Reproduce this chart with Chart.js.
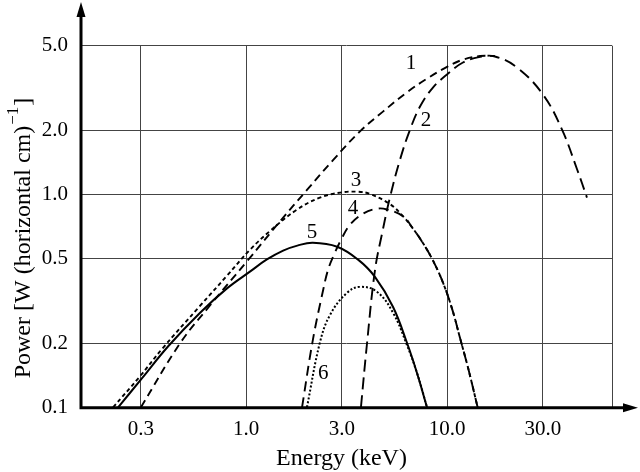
<!DOCTYPE html>
<html>
<head>
<meta charset="utf-8">
<style>
  html, body { margin: 0; padding: 0; background: #fff; }
  canvas { display: block; }
</style>
</head>
<body>
<canvas id="chart" width="640" height="472"></canvas>
<script src="https://cdn.jsdelivr.net/npm/chart.js@4/dist/chart.umd.min.js"></script>
<script>
const serif = '"Liberation Serif", "Times New Roman", serif';

// axes
const xTickValues = [0.3, 1, 3, 10, 30];
const xTickLabels = ["0.3", "1.0", "3.0", "10.0", "30.0"];
const yTickValues = [0.1, 0.2, 0.5, 1, 2, 5];
const yTickLabels = ["0.1", "0.2", "0.5", "1.0", "2.0", "5.0"];
const xMin = 0.151;
const xMax = 66.2;
const yMin = 0.1;
const yMax = 5;

// curves (energy in keV, power in W per horizontal cm)
const curve1Energy = [0.30, 0.47, 0.66, 1.02, 1.48, 2.01, 2.71, 3.69, 4.80, 6.32, 7.95, 10.0, 12.0, 14.6, 17.3];
const curve1Power = [0.10, 0.20, 0.30, 0.49, 0.75, 1.05, 1.45, 1.98, 2.45, 3.02, 3.50, 3.98, 4.30, 4.47, 4.47];

const curve2Energy = [3.73, 4.00, 4.38, 4.75, 5.21, 5.84, 6.55, 7.34, 8.51, 10.0, 12.0, 14.6, 17.3, 22.3, 30.0, 37.3, 44.4, 49.7];
const curve2Power = [0.10, 0.20, 0.44, 0.654, 0.976, 1.46, 2.02, 2.59, 3.18, 3.66, 4.17, 4.43, 4.45, 3.95, 2.95, 2.02, 1.31, 0.966];

const curve3Energy = [0.218, 0.297, 0.382, 0.591, 0.804, 1.047, 1.32, 1.79, 2.33, 2.94, 3.61, 4.14, 5.21, 6.04, 6.78, 7.60, 8.51, 9.55, 10.6, 11.6, 12.8, 14.2];
const curve3Power = [0.10, 0.140, 0.188, 0.300, 0.415, 0.55, 0.675, 0.848, 0.966, 1.02, 1.03, 1.005, 0.90, 0.79, 0.69, 0.59, 0.49, 0.385, 0.29, 0.212, 0.15, 0.10];

const curve4Energy = [1.90, 2.15, 2.42, 2.56, 2.74, 2.97, 3.29, 3.82, 4.48, 5.03, 6.04, 6.78, 7.60, 8.51, 9.55, 10.6, 11.6, 12.8, 14.2];
const curve4Power = [0.10, 0.207, 0.356, 0.443, 0.521, 0.612, 0.721, 0.812, 0.857, 0.85, 0.79, 0.69, 0.59, 0.49, 0.385, 0.29, 0.212, 0.15, 0.10];

const curve5Energy = [0.231, 0.304, 0.409, 0.591, 0.804, 1.05, 1.27, 1.53, 1.80, 2.15, 2.84, 3.61, 4.38, 5.39, 6.32, 7.09, 7.95];
const curve5Power = [0.10, 0.137, 0.193, 0.278, 0.362, 0.435, 0.495, 0.545, 0.575, 0.593, 0.568, 0.494, 0.410, 0.296, 0.201, 0.145, 0.10];

const curve6Energy = [2.01, 2.33, 2.62, 3.18, 3.69, 4.48, 5.39, 6.32, 7.09, 7.95];
const curve6Power = [0.10, 0.201, 0.272, 0.345, 0.368, 0.349, 0.278, 0.196, 0.145, 0.10];

// curve numbers written on the plot
const curveNames = ["1", "2", "3", "4", "5", "6"];
const nameEnergy = [6.62, 7.86, 3.53, 3.41, 2.13, 2.42];
const namePower = [4.13, 2.23, 1.16, 0.857, 0.661, 0.144];

const toPoints = (energy, power) => energy.map((e, i) => ({ x: e, y: power[i] }));

const curve = (energy, power, dash, width) => ({
  data: toPoints(energy, power),
  borderColor: "#000",
  borderWidth: width,
  borderDash: dash,
  pointRadius: 0,
  fill: false,
  tension: 0.4,
});

const decorations = {
  id: "decorations",
  afterDraw(chart) {
    const { ctx, chartArea: area, scales } = chart;
    const ax = area.left;
    const ay = area.bottom + 0.5;
    ctx.save();
    ctx.strokeStyle = "#000";
    ctx.fillStyle = "#000";

    // thick axes with arrows
    ctx.lineWidth = 3;
    ctx.beginPath();
    ctx.moveTo(ax, ay + 1.5);
    ctx.lineTo(ax, 14);
    ctx.moveTo(ax - 1.5, ay);
    ctx.lineTo(626, ay);
    ctx.stroke();
    ctx.beginPath();
    ctx.moveTo(ax, 2);
    ctx.lineTo(ax - 4.5, 17);
    ctx.lineTo(ax + 4.5, 17);
    ctx.closePath();
    ctx.moveTo(638, ay);
    ctx.lineTo(623, ay - 4.5);
    ctx.lineTo(623, ay + 4.5);
    ctx.closePath();
    ctx.fill();

    // curve numbers
    ctx.font = `21px ${serif}`;
    ctx.textAlign = "center";
    ctx.textBaseline = "middle";
    curveNames.forEach((name, i) => {
      ctx.fillText(name, scales.x.getPixelForValue(nameEnergy[i]), scales.y.getPixelForValue(namePower[i]));
    });

    // x title
    ctx.font = `24px ${serif}`;
    ctx.textBaseline = "alphabetic";
    ctx.fillText("Energy (keV)", 341.5, 465);

    // y title with superscript
    const main = "Power [W (horizontal cm)";
    const sup = "\u22121";
    const tail = "]";
    ctx.font = `24px ${serif}`;
    const wMain = ctx.measureText(main).width;
    const wTail = ctx.measureText(tail).width;
    ctx.font = `17px ${serif}`;
    const wSup = ctx.measureText(sup).width;
    const start = -(wMain + wSup + wTail + 2) / 2;
    ctx.translate(30, 238);
    ctx.rotate(-Math.PI / 2);
    ctx.textAlign = "left";
    ctx.font = `24px ${serif}`;
    ctx.fillText(main, start, 0);
    ctx.font = `17px ${serif}`;
    ctx.fillText(sup, start + wMain + 1, -12);
    ctx.font = `24px ${serif}`;
    ctx.fillText(tail, start + wMain + wSup + 2, 0);
    ctx.restore();
  },
};

new Chart(document.getElementById("chart").getContext("2d"), {
  type: "line",
  data: {
    datasets: [
      curve(curve1Energy, curve1Power, [8, 5], 1.9),
      curve(curve2Energy, curve2Power, [12, 6], 1.9),
      curve(curve3Energy, curve3Power, [4, 3], 1.9),
      curve(curve4Energy, curve4Power, [10, 6], 1.9),
      curve(curve5Energy, curve5Power, [], 2),
      curve(curve6Energy, curve6Power, [2, 2], 2),
    ],
  },
  options: {
    responsive: false,
    animation: false,
    layout: { padding: { top: 45.7, right: 28, bottom: 0, left: 0 } },
    plugins: { legend: { display: false }, tooltip: { enabled: false } },
    scales: {
      x: {
        type: "logarithmic",
        min: xMin,
        max: xMax,
        afterBuildTicks: (scale) => {
          scale.ticks = xTickValues.concat([xMax]).map((v) => ({ value: v }));
        },
        afterFit: (scale) => {
          scale.height = 64.7;
        },
        grid: { color: "#444", lineWidth: 1, drawTicks: false },
        border: { display: false },
        ticks: {
          autoSkip: false,
          maxRotation: 0,
          color: "#000",
          padding: 10,
          font: { family: serif, size: 21, lineHeight: 1.2 },
          callback: (value, index) => xTickLabels[index] ?? "",
        },
      },
      y: {
        type: "logarithmic",
        min: yMin,
        max: yMax,
        afterBuildTicks: (scale) => {
          scale.ticks = yTickValues.map((v) => ({ value: v }));
        },
        afterFit: (scale) => {
          scale.width = 81;
        },
        grid: { color: "#444", lineWidth: 1, drawTicks: false },
        border: { display: false },
        ticks: {
          autoSkip: false,
          color: "#000",
          padding: 13,
          font: { family: serif, size: 21, lineHeight: 1.2 },
          callback: (value, index) => yTickLabels[index] ?? "",
        },
      },
    },
  },
  plugins: [decorations],
});
</script>
</body>
</html>
